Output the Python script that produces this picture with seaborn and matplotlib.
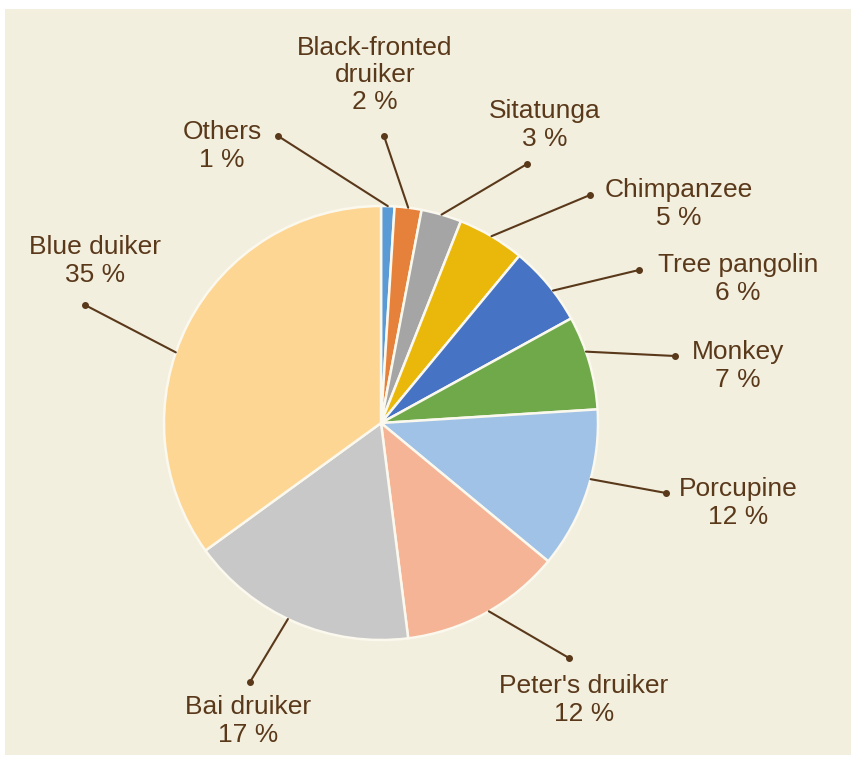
import numpy as np
import matplotlib
matplotlib.use("Agg")
import matplotlib.pyplot as plt
import seaborn as sns

# data, clockwise from 12 o'clock
species = ["Others", "Black-fronted\ndruiker", "Sitatunga", "Chimpanzee",
           "Tree pangolin", "Monkey", "Porcupine", "Peter's druiker",
           "Bai druiker", "Blue duiker"]
shares = [1, 2, 3, 5, 6, 7, 12, 12, 17, 35]
colors = ["#5b9bd5", "#e5813a", "#a5a5a5", "#eab80a", "#4673c3",
          "#6fa94a", "#a0c2e6", "#f4b495", "#c8c8c8", "#fed694"]

# layout (pixels from top-left): label centres and leader-line dots
label_xy = [(222, 146), (375, 75), (545, 125), (679, 204), (738, 279),
            (738, 366), (738, 503), (584, 700), (248, 721), (95, 261)]
dot_xy = [(278, 136), (384, 136), (527, 164), (590, 195), (639, 270),
          (675, 356), (666, 493), (569, 658), (250, 682), (85, 305)]
# small nudges (deg) of where each leader meets the pie rim
rim_nudge = [0, 0, 0, 0, -2, 3, 3, 1, -2, 8]

W, H = 855, 759
BG = "#f3efdf"
TXT = "#5a391b"

sns.set_theme(style="white")
plt.rcParams["font.family"] = ["Liberation Sans", "DejaVu Sans"]

fig = plt.figure(figsize=(W / 100, H / 100), dpi=100)
fig.patch.set_facecolor("white")

ax = fig.add_axes([0, 0, 1, 1])
ax.patch.set_alpha(0)
ax.add_patch(plt.Rectangle((5, 4), 846, 746, facecolor=BG,
                           edgecolor="none", zorder=0))

cx, cy, r = 381, H - 423, 217
wedges, _ = ax.pie(shares, colors=colors, startangle=90, counterclock=False,
                   center=(cx, cy), radius=r,
                   wedgeprops=dict(edgecolor="#fbf8ee", linewidth=1.8,
                                   zorder=2))

for w, name, val, (lx, ly), (dx, dy), nd in zip(wedges, species, shares,
                                                label_xy, dot_xy, rim_nudge):
    mid = np.deg2rad((w.theta1 + w.theta2) / 2 + nd)
    ex, ey = cx + r * np.cos(mid), cy + r * np.sin(mid)
    ax.plot([ex, dx], [ey, H - dy], color=TXT, lw=1.5, zorder=3)
    ax.plot(dx, H - dy, "o", color=TXT, ms=4, zorder=4)
    ax.text(lx, H - ly, f"{name}\n{val} %", ha="center", va="center",
            fontsize=19, color=TXT, linespacing=1.18, zorder=5)

ax.set_xlim(0, W)
ax.set_ylim(0, H)
ax.set_aspect("auto")
ax.axis("off")

fig.savefig("out.png", dpi=100, facecolor="white")
